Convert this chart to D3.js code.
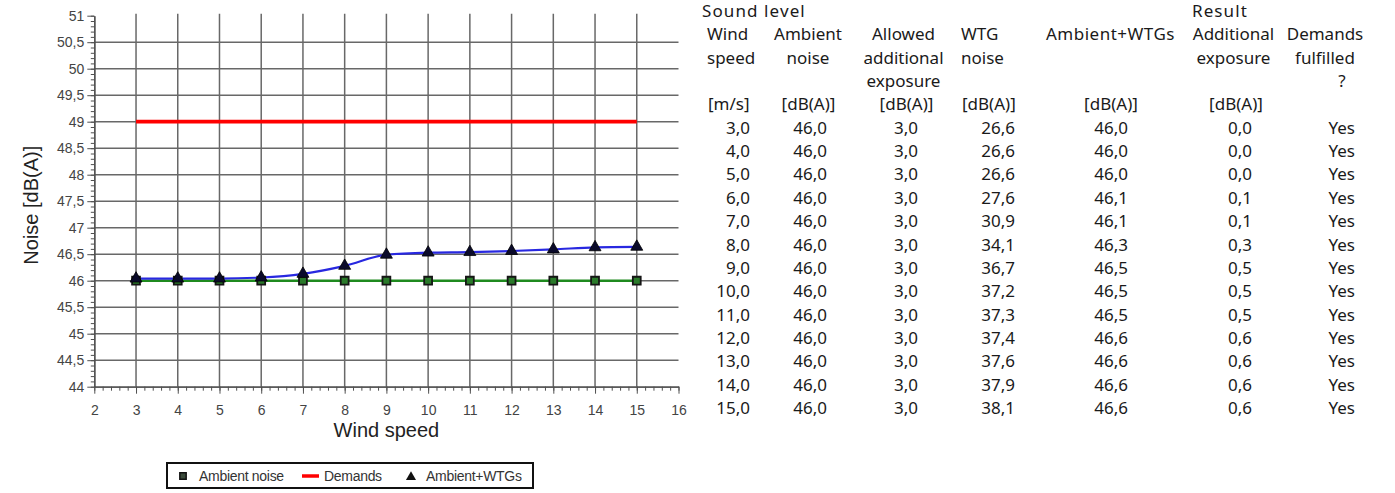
<!DOCTYPE html>
<html>
<head>
<meta charset="utf-8">
<script src="https://cdn.jsdelivr.net/npm/d3@7"></script>
<style>
  body { margin: 0; background: #fff; }
  svg { display: block; }
</style>
</head>
<body>
<svg id="chart" width="1395" height="493"></svg>
<script>
// ---- data ----
const windSpeeds      = [3, 4, 5, 6, 7, 8, 9, 10, 11, 12, 13, 14, 15];
const ambientNoise    = [46.0, 46.0, 46.0, 46.0, 46.0, 46.0, 46.0, 46.0, 46.0, 46.0, 46.0, 46.0, 46.0];
const demandLevel     = [49.0, 49.0, 49.0, 49.0, 49.0, 49.0, 49.0, 49.0, 49.0, 49.0, 49.0, 49.0, 49.0];
const ambientPlusWtgs = [46.04, 46.04, 46.04, 46.06, 46.13, 46.28, 46.49, 46.53, 46.54, 46.56, 46.59, 46.63, 46.64];

// table columns
const allowedExposure  = [3.0, 3.0, 3.0, 3.0, 3.0, 3.0, 3.0, 3.0, 3.0, 3.0, 3.0, 3.0, 3.0];
const wtgNoise         = [26.6, 26.6, 26.6, 27.6, 30.9, 34.1, 36.7, 37.2, 37.3, 37.4, 37.6, 37.9, 38.1];
const totalLevel       = [46.0, 46.0, 46.0, 46.1, 46.1, 46.3, 46.5, 46.5, 46.5, 46.6, 46.6, 46.6, 46.6];
const additionalResult = [0.0, 0.0, 0.0, 0.1, 0.1, 0.3, 0.5, 0.5, 0.5, 0.6, 0.6, 0.6, 0.6];
const demandsFulfilled = ["Yes", "Yes", "Yes", "Yes", "Yes", "Yes", "Yes", "Yes", "Yes", "Yes", "Yes", "Yes", "Yes"];

// axis ticks and labels
const yMajorTicks = [44, 44.5, 45, 45.5, 46, 46.5, 47, 47.5, 48, 48.5, 49, 49.5, 50, 50.5, 51];
const yGridTicks  = [44.5, 45, 45.5, 46, 46.5, 47, 47.5, 48, 48.5, 49, 49.5, 50, 50.5];
const xMajorTicks = [2, 3, 4, 5, 6, 7, 8, 9, 10, 11, 12, 13, 14, 15, 16];
const xGridTicks  = [3, 4, 5, 6, 7, 8, 9, 10, 11, 12, 13, 14, 15];
const xTitle = "Wind speed";
const yTitle = "Noise [dB(A)]";
const legendLabels = ["Ambient noise", "Demands", "Ambient+WTGs"];

// table headings
const groupHeadings  = ["Sound level", "Result"];
const columnHeadings = [
  ["Wind", "speed"],
  ["Ambient", "noise"],
  ["Allowed", "additional", "exposure"],
  ["WTG", "noise"],
  ["Ambient+WTGs"],
  ["Additional", "exposure"],
  ["Demands", "fulfilled", "?"]
];
const columnUnits = ["[m/s]", "[dB(A)]", "[dB(A)]", "[dB(A)]", "[dB(A)]", "[dB(A)]", ""];

// ---- formatting (comma decimal separator) ----
const locale = d3.formatLocale({ decimal: ",", thousands: ".", grouping: [3], currency: ["", ""] });
const fmtAxis = locale.format("~g");
const fmt1 = locale.format(".1f");

const svg = d3.select("#chart");

// ---- chart ----
const x = d3.scaleLinear().domain([2, 16]).range([94.3, 678.5]);
const y = d3.scaleLinear().domain([44, 51]).range([386.7, 15.7]);

const gridColor = "#686868";

// grid
const grid = svg.append("g");
grid.selectAll("line.v").data(xGridTicks).join("line")
  .attr("x1", d => x(d)).attr("x2", d => x(d))
  .attr("y1", y(51) - 2).attr("y2", y(44))
  .attr("stroke", gridColor).attr("stroke-width", 1.5);
grid.selectAll("line.h").data(yGridTicks).join("line")
  .attr("x1", x(2)).attr("x2", x(16))
  .attr("y1", d => y(d)).attr("y2", d => y(d))
  .attr("stroke", gridColor).attr("stroke-width", 1.5);

// axes
const axisColor = "#505050";
function styleAxis(g) {
  g.select(".domain").attr("stroke", axisColor).attr("stroke-width", 1.3);
  g.selectAll(".tick line").attr("stroke", axisColor).attr("stroke-width", 1);
  g.selectAll(".tick text").attr("fill", "#444")
    .attr("font-family", "'Liberation Sans', Arial, sans-serif").attr("font-size", 14);
}

const yMinor = d3.range(440, 511).map(v => v / 10);
svg.append("g").attr("transform", `translate(${x(2)},0)`)
  .call(d3.axisLeft(y).tickValues(yMinor).tickSize(3.5).tickFormat("").tickSizeOuter(0))
  .call(styleAxis);
svg.append("g").attr("transform", `translate(${x(2)},0)`)
  .call(d3.axisLeft(y).tickValues(yMajorTicks).tickSize(7).tickPadding(3).tickFormat(fmtAxis).tickSizeOuter(0))
  .call(styleAxis);

const xMinor = d3.range(10, 81).map(v => v / 5);
svg.append("g").attr("transform", `translate(0,${y(44)})`)
  .call(d3.axisBottom(x).tickValues(xMinor).tickSize(4).tickFormat("").tickSizeOuter(0))
  .call(styleAxis);
svg.append("g").attr("transform", `translate(0,${y(44)})`)
  .call(d3.axisBottom(x).tickValues(xMajorTicks).tickSize(7).tickPadding(11).tickFormat(d3.format("d")).tickSizeOuter(0))
  .call(styleAxis);

// axis titles
svg.append("text")
  .attr("x", (x(2) + x(16)) / 2).attr("y", 437)
  .attr("text-anchor", "middle")
  .attr("font-family", "'Liberation Sans', Arial, sans-serif").attr("font-size", 20)
  .attr("fill", "#222").text(xTitle);
svg.append("text")
  .attr("transform", `translate(38,${(y(44) + y(51)) / 2 + 4}) rotate(-90)`)
  .attr("text-anchor", "middle")
  .attr("font-family", "'Liberation Sans', Arial, sans-serif").attr("font-size", 20)
  .attr("fill", "#222").text(yTitle);

// series
const pts = vals => windSpeeds.map((w, i) => [w, vals[i]]);
const straight = d3.line().x(d => x(d[0])).y(d => y(d[1]));
const smooth = d3.line().x(d => x(d[0])).y(d => y(d[1])).curve(d3.curveMonotoneX);

const colors = { ambient: "#1f8a1f", demands: "#ff0000", total: "#2828e0" };

svg.append("path").datum(pts(demandLevel)).attr("d", straight)
  .attr("fill", "none").attr("stroke", colors.demands).attr("stroke-width", 3.8);
svg.append("path").datum(pts(ambientNoise)).attr("d", straight)
  .attr("fill", "none").attr("stroke", colors.ambient).attr("stroke-width", 2.4);
svg.append("path").datum(pts(ambientPlusWtgs)).attr("d", smooth)
  .attr("fill", "none").attr("stroke", colors.total).attr("stroke-width", 2.2);

const squareSym = d3.symbol().type(d3.symbolSquare).size(62);
const triSym = d3.symbol().type(d3.symbolTriangle).size(62);

svg.append("g").selectAll("path").data(pts(ambientNoise)).join("path")
  .attr("transform", d => `translate(${x(d[0])},${y(d[1])})`)
  .attr("d", squareSym)
  .attr("fill", "#2a7a2a").attr("stroke", "#151515").attr("stroke-width", 1.8);
svg.append("g").selectAll("path").data(pts(ambientPlusWtgs)).join("path")
  .attr("transform", d => `translate(${x(d[0])},${y(d[1])})`)
  .attr("d", triSym)
  .attr("fill", "#0a0a2a").attr("stroke", "#000").attr("stroke-width", 0.8);

// legend
const legend = svg.append("g");
legend.append("rect")
  .attr("x", 167).attr("y", 463).attr("width", 366).attr("height", 25)
  .attr("fill", "#fff").attr("stroke", "#111").attr("stroke-width", 2);
const legendFont = "'Liberation Sans', Arial, sans-serif";
legend.append("path").attr("transform", "translate(183,476)")
  .attr("d", d3.symbol().type(d3.symbolSquare).size(40))
  .attr("fill", "#3a4a3a").attr("stroke", "#111").attr("stroke-width", 1.5);
legend.append("line").attr("x1", 302).attr("x2", 319).attr("y1", 476).attr("y2", 476)
  .attr("stroke", colors.demands).attr("stroke-width", 3.5);
legend.append("path").attr("transform", "translate(411,477)")
  .attr("d", d3.symbol().type(d3.symbolTriangle).size(44))
  .attr("fill", "#111");
const legendX = [199, 324, 426];
legend.selectAll("text").data(legendLabels).join("text")
  .attr("x", (d, i) => legendX[i]).attr("y", 481)
  .attr("font-family", legendFont).attr("font-size", 14).attr("letter-spacing", -0.3)
  .attr("fill", "#333").text(d => d);

// ---- table ----
const tableFont = "'Noto Sans', 'Open Sans', sans-serif";
const rowY = i => 17 + i * 23.35;
const table = svg.append("g")
  .attr("font-family", tableFont).attr("font-size", 17).attr("fill", "#1a1a1a");

// heading layout: anchor type and x for heading lines, units and values
const headLayout = [
  { anchor: "start",  hx: 707,    ux: 708,    vx: 750 },
  { anchor: "middle", hx: 808,    ux: 808.5,  vx: 827 },
  { anchor: "middle", hx: 903.5,  ux: 906.5,  vx: 918 },
  { anchor: "start",  hx: 961,    ux: 962,    vx: 1015 },
  { anchor: "middle", hx: 1110.5, ux: 1111,   vx: 1128, spacing: 0.5 },
  { anchor: "middle", hx: 1233.5, ux: 1236,   vx: 1252 },
  { anchor: "middle", hx: 1325,   ux: 1325,   vx: 1355, lineDx: [0, 0, 17] }
];
const groupX = [702, 1192];

table.selectAll("text.group").data(groupHeadings).join("text")
  .attr("class", "group")
  .attr("x", (d, i) => groupX[i]).attr("y", rowY(0))
  .attr("letter-spacing", 1.1)
  .text(d => d);

columnHeadings.forEach((lines, c) => {
  const L = headLayout[c];
  table.append("g").selectAll("text").data(lines).join("text")
    .attr("x", (d, i) => L.hx + (L.lineDx ? L.lineDx[i] : 0))
    .attr("y", (d, i) => rowY(1 + i))
    .attr("text-anchor", L.anchor)
    .attr("letter-spacing", L.spacing || 0)
    .text(d => d);
  if (columnUnits[c]) {
    table.append("text")
      .attr("x", L.ux).attr("y", rowY(4))
      .attr("text-anchor", L.anchor === "start" ? "start" : "middle")
      .text(columnUnits[c]);
  }
});

const tableColumns = [
  windSpeeds.map(fmt1),
  ambientNoise.map(fmt1),
  allowedExposure.map(fmt1),
  wtgNoise.map(fmt1),
  totalLevel.map(fmt1),
  additionalResult.map(fmt1),
  demandsFulfilled
];
tableColumns.forEach((vals, c) => {
  table.append("g").selectAll("text").data(vals).join("text")
    .attr("x", headLayout[c].vx)
    .attr("y", (d, i) => rowY(5 + i))
    .attr("text-anchor", "end")
    .text(d => d);
});
</script>
</body>
</html>
